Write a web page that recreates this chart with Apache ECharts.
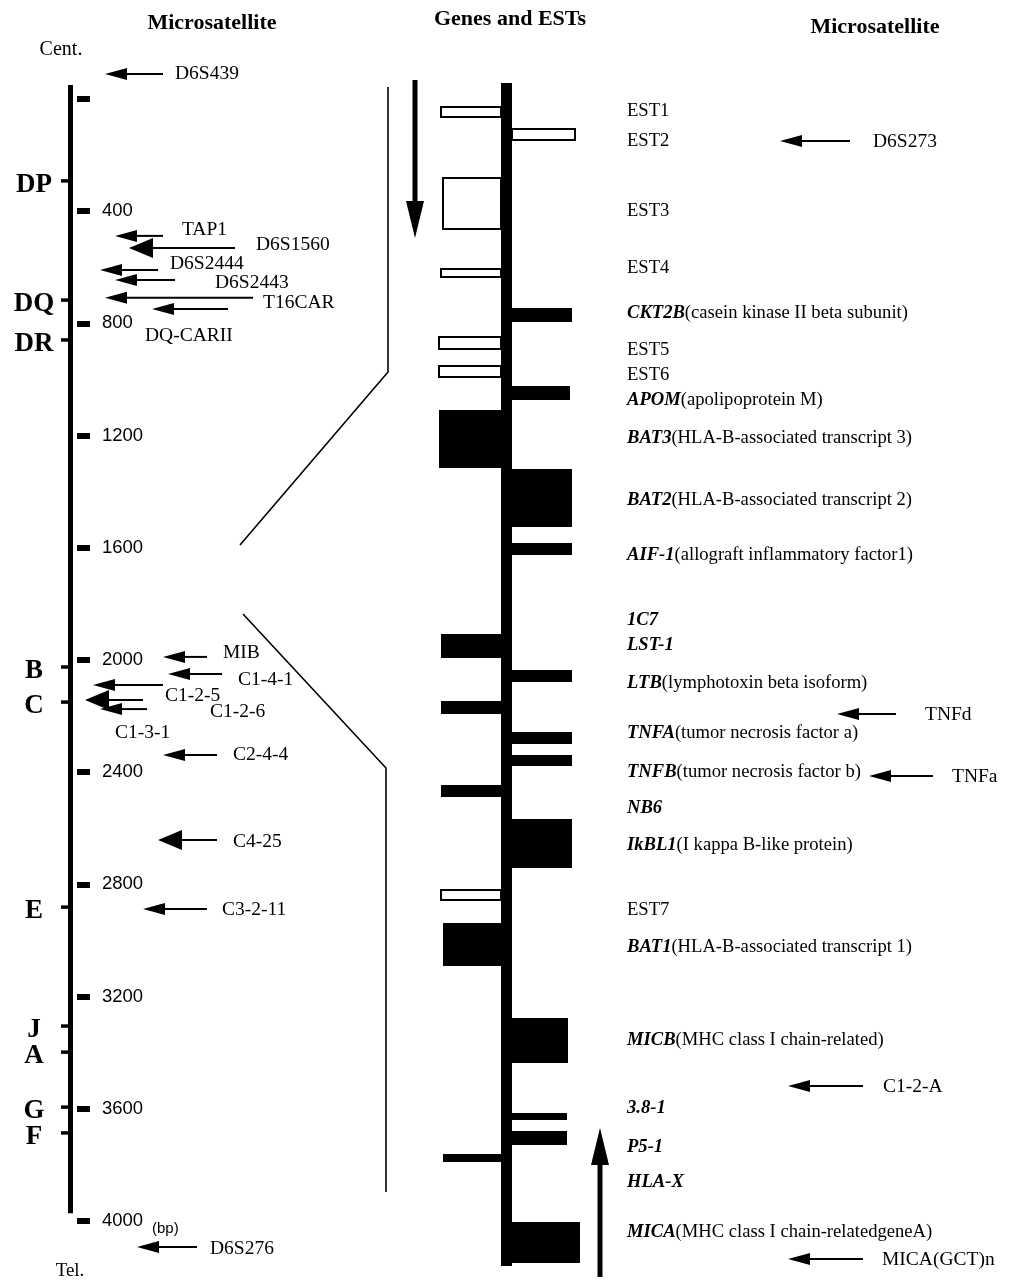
<!DOCTYPE html>
<html><head><meta charset="utf-8">
<script src="https://cdn.jsdelivr.net/npm/echarts@6/dist/echarts.min.js"></script>
<style>html,body{margin:0;padding:0;background:#fff}#c{width:1012px;height:1284px}</style>
</head><body><div id="c"></div>
<script>
// ================= DATA =================
// Left physical map (bp scale)
const mapMinBp = 0, mapMaxBp = 4000, mapTickStepBp = 400;
const chromosomeExtentBp = [-50, 3972];
const locusNames = ['DP','DQ','DR','B','C','E','J','A','G','F'];
const locusBp    = [292, 717, 859, 2025, 2150, 2881, 3305, 3398, 3594, 3686];
const leftMarkerNames = ['D6S439','TAP1','D6S1560','D6S2444','D6S2443','T16CAR','DQ-CARII','MIB','C1-4-1','C1-2-5','C1-2-6','C1-3-1','C2-4-4','C4-25','C3-2-11','D6S276'];
const leftMarkerBp    = [-89, 488, 531, 610, 645, 709, 749, 1989, 2050, 2089, 2143, 2175, 2339, 2642, 2888, 4093];
const zoomWindowBp = [1590, 1836];

// Expanded gene track (track position units)
const trackMin = 0, trackMax = 1183;
const blockStart = [23, 45, 94, 185, 225, 253, 282, 303, 327, 386, 460, 551, 587, 618, 649, 672, 702, 736, 806, 840, 935, 1030, 1048, 1071, 1139];
const blockEnd   = [35, 58, 147, 195, 239, 267, 295, 317, 385, 444, 472, 575, 599, 631, 661, 683, 714, 785, 818, 883, 980, 1037, 1062, 1079, 1180];
const blockSide  = ['L','R','L','L','R','L','L','R','L','R','R','L','R','L','R','R','L','R','L','L','R','R','R','L','R'];
const blockKind  = ['EST','EST','EST','EST','gene','EST','EST','gene','gene','gene','gene','gene','gene','gene','gene','gene','gene','gene','EST','gene','gene','gene','gene','gene','gene'];
const geneLabelNames = ['EST1','EST2','EST3','EST4','CKT2B','EST5','EST6','APOM','BAT3','BAT2','AIF-1','1C7','LST-1','LTB','TNFA','TNFB','NB6','IkBL1','EST7','BAT1','MICB','3.8-1','P5-1','HLA-X','MICA'];
const geneLabelDesc  = ['','','','','casein kinase II beta subunit','','','apolipoprotein M','HLA-B-associated transcript 3','HLA-B-associated transcript 2','allograft inflammatory factor1','','','lymphotoxin beta isoform','tumor necrosis factor a','tumor necrosis factor b','','I kappa B-like protein','','HLA-B-associated transcript 1','MHC class I chain-related','','','','MHC class I chain-relatedgeneA'];
const geneLabelPos   = [28, 58, 128, 185, 230, 267, 292, 317, 355, 417, 472, 537, 562, 600, 650, 689, 725, 762, 827, 864, 957, 1025, 1064, 1099, 1149];
const rightMarkerNames = ['D6S273','TNFd','TNFa','C1-2-A','MICA(GCT)n'];
const rightMarkerPos   = [58, 631, 693, 1003, 1176];

// ================= LAYOUT / STYLE =================
const SERIF = '"Liberation Serif", "Times New Roman", serif';
const SANS = '"Liberation Sans", Arial, sans-serif';
const MARKER_FS = 19.5, GENE_FS = 18.6;
// tipX, tailX, bigHead, labelX, labelDy
const leftMarkerLayout = [
 [105,163,0,175,0],[115,163,0,182,-6],[129,235,1,256,-3],[100,158,0,170,-6],
 [115,175,0,215,3],[105,253,0,263,5],[152,228,0,145,27],[163,207,0,223,-4],
 [168,222,0,238,6],[93,163,0,165,11],[85,143,1,210,12],[100,147,0,115,24],
 [163,217,0,233,0],[158,217,1,233,2],[143,207,0,222,1],[137,197,0,210,2]
];
const rightMarkerLayout = [[780,850,873],[837,896,925],[869,933,952],[788,863,883],[788,863,882]];
const blockWidthPx = [61,64,59,61,60,63,63,58,62,60,60,60,60,60,60,60,60,60,61,58,56,55,55,58,68];
const barLeft = 501, barRight = 512;
const orientationArrows = [{x:415, from:-3, to:155}, {x:600, from:1194, to:1045}];

function txt(text, x, y, size, family, weight, align, extra) {
  return Object.assign({type:'text', style:{text:text, x:x, y:y, fontSize:size, fontFamily:family,
    fontWeight:weight||'normal', fill:'#000', align:align||'left', verticalAlign:'middle',
    textAlign:align||'left', textVerticalAlign:'middle'}}, extra||{});
}
function leftArrow(tipX, tailX, y, hl, hh, lw) {
  return [
    {type:'line', shape:{x1:tipX+hl-2, y1:y, x2:tailX, y2:y}, style:{stroke:'#000', lineWidth:lw||2}},
    {type:'polygon', shape:{points:[[tipX,y],[tipX+hl,y-hh/2],[tipX+hl,y+hh/2]]}, style:{fill:'#000'}}
  ];
}

const chart = echarts.init(document.getElementById('c'));
const option = {
  animation:false,
  backgroundColor:'#fff',
  grid:[
    {left:77, top:99, width:10, height:1122},
    {left:400, top:83, width:200, height:1183}
  ],
  xAxis:[
    {gridIndex:0, type:'value', min:0, max:1, show:false},
    {gridIndex:1, type:'value', min:0, max:1, show:false}
  ],
  yAxis:[
    {gridIndex:0, type:'value', min:mapMinBp, max:mapMaxBp, interval:mapTickStepBp, inverse:true, position:'left',
     axisLine:{show:false}, splitLine:{show:false},
     axisTick:{show:true, inside:true, length:13, lineStyle:{color:'#000', width:6}},
     axisLabel:{show:true, inside:true, margin:25, color:'#000', fontSize:18.5, fontFamily:SANS,
       formatter:function(v){return v===0?'':String(v);}}},
    {gridIndex:1, type:'value', min:trackMin, max:trackMax, inverse:true, show:false}
  ],
  series:[
    {type:'custom', xAxisIndex:0, yAxisIndex:0, clip:false, silent:true,
     data:[[0, chromosomeExtentBp[0], chromosomeExtentBp[1]]],
     renderItem:function(p, api){
       const y0 = api.coord([0, api.value(1)])[1], y1 = api.coord([0, api.value(2)])[1];
       return {type:'rect', shape:{x:68, y:y0, width:5, height:y1-y0}, style:{fill:'#000'}};
     }},
    {type:'custom', xAxisIndex:0, yAxisIndex:0, clip:false, silent:true,
     data:locusBp.map(function(b){return [0,b];}),
     renderItem:function(p, api){
       const y = api.coord([0, api.value(1)])[1];
       return {type:'group', children:[
         {type:'line', shape:{x1:61, y1:y, x2:70, y2:y}, style:{stroke:'#000', lineWidth:3.5}},
         txt(locusNames[p.dataIndex], 34, y+4, 27, SERIF, 'bold', 'center')
       ]};
     }},
    {type:'custom', xAxisIndex:0, yAxisIndex:0, clip:false, silent:true,
     data:leftMarkerBp.map(function(b){return [0,b];}),
     renderItem:function(p, api){
       const i = p.dataIndex, L = leftMarkerLayout[i];
       const y = api.coord([0, api.value(1)])[1];
       const ch = leftArrow(L[0], L[1], y, L[2]?24:22, L[2]?20:12, 2);
       ch.push(txt(leftMarkerNames[i], L[3], y+L[4], MARKER_FS, SERIF, 'normal', 'left'));
       return {type:'group', children:ch};
     }},
    {type:'custom', xAxisIndex:1, yAxisIndex:1, clip:false, silent:true,
     data:[[0, trackMin, trackMax]],
     renderItem:function(p, api){
       const y0 = api.coord([0, api.value(1)])[1], y1 = api.coord([0, api.value(2)])[1];
       return {type:'rect', shape:{x:barLeft, y:y0, width:barRight-barLeft, height:y1-y0}, style:{fill:'#000'}};
     }},
    {type:'custom', xAxisIndex:1, yAxisIndex:1, clip:false, silent:true,
     data:blockStart.map(function(s,i){return [0, s, blockEnd[i]];}),
     renderItem:function(p, api){
       const i = p.dataIndex, w = blockWidthPx[i];
       const y0 = api.coord([0, api.value(1)])[1], y1 = api.coord([0, api.value(2)])[1];
       const x = blockSide[i]==='L' ? barLeft - w : barRight - 1;
       const ww = w + 1;
       if (blockKind[i]==='EST') {
         return {type:'rect', shape:{x:x+1, y:y0+1, width:ww-2, height:y1-y0-2},
                 style:{fill:'#fff', stroke:'#000', lineWidth:2}};
       }
       return {type:'rect', shape:{x:x, y:y0, width:ww, height:y1-y0}, style:{fill:'#000'}};
     }},
    {type:'custom', xAxisIndex:1, yAxisIndex:1, clip:false, silent:true,
     data:geneLabelPos.map(function(v){return [0,v];}),
     renderItem:function(p, api){
       const i = p.dataIndex, y = api.coord([0, api.value(1)])[1];
       const name = geneLabelNames[i], desc = geneLabelDesc[i];
       const isEST = name.indexOf('EST')===0;
       const text = isEST ? '{r|'+name+'}' : '{b|'+name+'}' + (desc ? '{r|('+desc+')}' : '');
       return {type:'text', style:{text:text, x:627, y:y, fill:'#000', align:'left', verticalAlign:'middle',
         textAlign:'left', textVerticalAlign:'middle', fontSize:GENE_FS, fontFamily:SERIF,
         rich:{b:{fontSize:GENE_FS, fontFamily:SERIF, fontWeight:'bold', fontStyle:'italic', fill:'#000', color:'#000'},
               r:{fontSize:GENE_FS, fontFamily:SERIF, fontWeight:'normal', fill:'#000', color:'#000'}}}};
     }},
    {type:'custom', xAxisIndex:1, yAxisIndex:1, clip:false, silent:true,
     data:rightMarkerPos.map(function(v){return [0,v];}),
     renderItem:function(p, api){
       const i = p.dataIndex, L = rightMarkerLayout[i];
       const y = api.coord([0, api.value(1)])[1];
       const ch = leftArrow(L[0], L[1], y, 22, 12, 2);
       ch.push(txt(rightMarkerNames[i], L[2], y+1, MARKER_FS, SERIF, 'normal', 'left'));
       return {type:'group', children:ch};
     }},
    {type:'custom', xAxisIndex:1, yAxisIndex:1, clip:false, silent:true,
     data:orientationArrows.map(function(a){return [0, a.from, a.to];}),
     renderItem:function(p, api){
       const a = orientationArrows[p.dataIndex];
       const yFrom = api.coord([0, api.value(1)])[1], yTo = api.coord([0, api.value(2)])[1];
       const dir = yTo > yFrom ? 1 : -1, hl = 37, hw = 18;
       const yBase = yTo - dir*hl;
       return {type:'group', children:[
         {type:'line', shape:{x1:a.x, y1:yFrom, x2:a.x, y2:yBase+dir*2}, style:{stroke:'#000', lineWidth:5}},
         {type:'polygon', shape:{points:[[a.x, yTo],[a.x-hw/2, yBase],[a.x+hw/2, yBase]]}, style:{fill:'#000'}}
       ]};
     }}
  ]
};
chart.setOption(option);

// connectors between the left map window and the expanded gene track
const upL = chart.convertToPixel({gridIndex:0}, [0, zoomWindowBp[0]]);
const loL = chart.convertToPixel({gridIndex:0}, [0, zoomWindowBp[1]]);
const upC = chart.convertToPixel({gridIndex:1}, [0, 289]);
const upT = chart.convertToPixel({gridIndex:1}, [0, 4]);
const loC = chart.convertToPixel({gridIndex:1}, [0, 685]);
const loB = chart.convertToPixel({gridIndex:1}, [0, 1109]);
function gtext(text, x, y, font, align) {
  return {type:'text', x:x, y:y, silent:true, style:{text:text, font:font, fill:'#000',
    textAlign:align||'center', textVerticalAlign:'middle', align:align||'center', verticalAlign:'middle'}};
}
chart.setOption({graphic:[
  gtext('Microsatellite', 212, 23, 'bold 22px "Liberation Serif"'),
  gtext('Genes and ESTs', 510, 19, 'bold 22px "Liberation Serif"'),
  gtext('Microsatellite', 875, 27, 'bold 22px "Liberation Serif"'),
  gtext('Cent.', 61, 50, '20px "Liberation Serif"'),
  gtext('Tel.', 70, 1271, '19px "Liberation Serif"'),
  gtext('(bp)', 152, 1229, '15px "Liberation Sans"', 'left'),
  {type:'polyline', silent:true, shape:{points:[[240, upL[1]],[388, upC[1]],[388, upT[1]]]}, style:{stroke:'#000', lineWidth:1.6, fill:null}},
  {type:'polyline', silent:true, shape:{points:[[243, loL[1]],[386, loC[1]],[386, loB[1]]]}, style:{stroke:'#000', lineWidth:1.6, fill:null}}
]});
</script>
</body></html>
